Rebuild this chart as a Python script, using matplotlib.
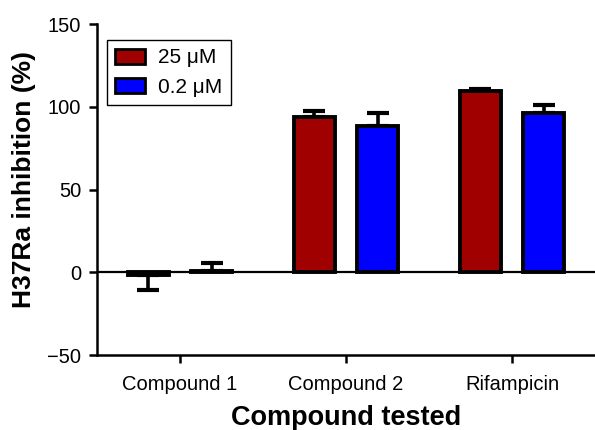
import matplotlib.pyplot as plt
import numpy as np

plt.rcParams['font.family'] = ['Liberation Sans', 'DejaVu Sans']

compounds = ["Compound 1", "Compound 2", "Rifampicin"]
conc_labels = ["25 \u03bcM", "0.2 \u03bcM"]
inhib_25 = [-1.5, 94, 109.5]
inhib_02 = [1, 88.5, 96.5]
# one-sided error bars (lower, upper)
err_25 = [[9, 0, 0], [0, 3.5, 1.5]]
err_02 = [[0, 0, 0], [4.5, 7.5, 4.5]]

colors = ["#A00000", "#0000FF"]

fig = plt.figure(figsize=(5.95, 4.3), dpi=100)
ax = fig.add_axes([0.163, 0.174, 0.837, 0.77])

x = np.arange(len(compounds))
off = 0.19
w = 0.25

ax.axhline(0, color="black", lw=1.6, zorder=1)

ax.errorbar(x - off, inhib_25, yerr=err_25, fmt="none", ecolor="black",
            elinewidth=2.6, capsize=8, capthick=3, zorder=2)
ax.errorbar(x + off, inhib_02, yerr=err_02, fmt="none", ecolor="black",
            elinewidth=2.6, capsize=8, capthick=3, zorder=2)
ax.bar(x - off, inhib_25, width=w, color=colors[0], edgecolor="black",
       linewidth=2.8, label=conc_labels[0], zorder=3)
ax.bar(x + off, inhib_02, width=w, color=colors[1], edgecolor="black",
       linewidth=2.8, label=conc_labels[1], zorder=3)

ax.set_xlim(-0.5, 2.5)
ax.set_ylim(-50, 150)
ax.set_yticks([-50, 0, 50, 100, 150])
ax.set_yticklabels(["\u221250", "0", "50", "100", "150"])
ax.set_xticks(x)
ax.set_xticklabels(compounds)

for s in ["top", "right"]:
    ax.spines[s].set_visible(False)
for s in ["left", "bottom"]:
    ax.spines[s].set_linewidth(1.8)
ax.tick_params(axis="both", width=1.8, length=6, labelsize=14.5)
ax.tick_params(axis="x", pad=8)
ax.tick_params(axis="y", pad=5.5)

ax.set_xlabel("Compound tested", fontsize=19.5, fontweight="bold", labelpad=8)
ax.set_ylabel("H37Ra inhibition (%)", fontsize=19, fontweight="bold", labelpad=8)
ax.yaxis.set_label_coords(-0.123, 0.53)

leg = ax.legend(loc="upper left", bbox_to_anchor=(0.02, 0.952), borderaxespad=0,
                fontsize=15, fancybox=False, edgecolor="black",
                handlelength=1.45, handleheight=0.73, labelspacing=0.5,
                handletextpad=0.6, borderpad=0.4)
leg.get_frame().set_linewidth(1.0)
leg.get_frame().set_alpha(1)
for p in leg.get_patches():
    p.set_linewidth(2)

fig.savefig("out.png", dpi=100)
